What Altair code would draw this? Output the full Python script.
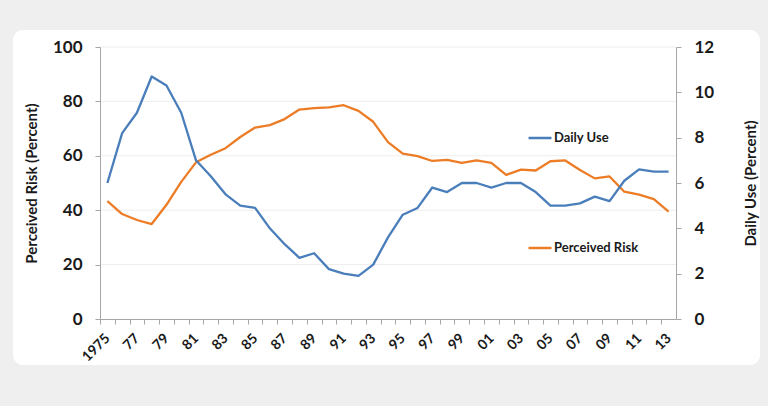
import altair as alt
import pandas as pd

# Survey years, 1975 through 2013
years = list(range(1975, 2014))

# Percent of 12th graders using marijuana daily (right axis)
daily_use = [6.0, 8.2, 9.1, 10.7, 10.3, 9.1, 7.0, 6.3, 5.5, 5.0,
             4.9, 4.0, 3.3, 2.7, 2.9, 2.2, 2.0, 1.9, 2.4, 3.6,
             4.6, 4.9, 5.8, 5.6, 6.0, 6.0, 5.8, 6.0, 6.0, 5.6,
             5.0, 5.0, 5.1, 5.4, 5.2, 6.1, 6.6, 6.5, 6.5]

# Percent seeing great risk in regular use (left axis)
perceived_risk = [43.3, 38.6, 36.4, 34.9, 42.0, 50.4, 57.6, 60.4, 62.8, 66.9,
                  70.4, 71.3, 73.5, 77.0, 77.5, 77.8, 78.6, 76.5, 72.5, 65.0,
                  60.8, 59.9, 58.1, 58.5, 57.4, 58.3, 57.4, 53.0, 54.9, 54.6,
                  58.0, 58.3, 54.8, 51.7, 52.4, 46.8, 45.7, 44.1, 39.5]

series_names = ["Daily Use", "Perceived Risk"]
series_colors = ["#4A7EBB", "#EC7C26"]

risk_ticks = [0, 20, 40, 60, 80, 100]
use_ticks = [0, 2, 4, 6, 8, 10, 12]
grid_values = [20, 40, 60, 80, 100]

df = pd.DataFrame({"year": years, "use": daily_use, "risk": perceived_risk})

W, H = 576, 272
half_step = W / len(years) / 2

FONT = "Lato"
INK = "#1a1a1a"
AXIS_GRAY = "#a6a6a6"

x_enc = alt.X(
    "year:Q",
    scale=alt.Scale(domain=[years[0] - 0.5, years[-1] + 0.5], nice=False, zero=False),
    axis=alt.Axis(
        values=years + [years[-1] + 1],
        format="d",
        labelExpr=(
            "datum.value == 1975 ? '1975' : "
            "(datum.value % 2 == 1 && datum.value < 2014 ? slice(toString(datum.value), 2) : '')"
        ),
        tickOffset=-half_step,
        labelOffset=half_step,
        tickSize=5,
        labelPadding=12,
        labelAngle=-45,
        labelAlign="right",
        labelBaseline="middle",
        labelOverlap=False,
        labelFlush=False,
        labelFont=FONT,
        labelFontWeight="bold",
        labelFontSize=14,
        labelColor=INK,
        domainColor=AXIS_GRAY,
        tickColor=AXIS_GRAY,
        grid=False,
        title=None,
        zindex=1,
    ),
)

color_enc = alt.Color(
    "series:N",
    scale=alt.Scale(domain=series_names, range=series_colors),
    legend=alt.Legend(
        orient="none",
        legendX=427,
        legendY=78,
        direction="vertical",
        title=None,
        symbolType="stroke",
        symbolSize=529,
        symbolStrokeWidth=2.5,
        labelFont=FONT,
        labelFontWeight="bold",
        labelFontSize=13,
        labelColor=INK,
        labelOffset=1,
        rowPadding=90,
    ),
)

# white rounded panel behind the plot
panel = alt.Chart(alt.Data(values=[{}])).mark_rect(
    fill="white", cornerRadius=10
).encode(
    x=alt.value(-87), x2=alt.value(660), y=alt.value(-17), y2=alt.value(318)
)

grid = alt.Chart(pd.DataFrame({"g": grid_values})).mark_rule(
    color="#ededed", strokeWidth=1
).encode(
    y=alt.Y("g:Q", scale=alt.Scale(domain=[0, 100], nice=False), axis=None)
)

risk_line = alt.Chart(df).transform_calculate(
    series="'Perceived Risk'"
).mark_line(strokeWidth=2.3, strokeJoin="round").encode(
    x=x_enc,
    y=alt.Y(
        "risk:Q",
        scale=alt.Scale(domain=[0, 100], nice=False),
        axis=alt.Axis(
            orient="left",
            values=risk_ticks,
            tickSize=5,
            labelPadding=13,
            labelFont=FONT,
            labelFontWeight="bold",
            labelFontSize=17,
            labelColor=INK,
            domainColor=AXIS_GRAY,
            tickColor=AXIS_GRAY,
            grid=False,
            title="Perceived Risk (Percent)",
            titleFont=FONT,
            titleFontWeight="bold",
            titleFontSize=15,
            titleColor=INK,
            titleAngle=-90,
            titleX=-69,
            titleY=H / 2,
            titleAlign="center",
            titleBaseline="middle",
            zindex=1,
        ),
    ),
    color=color_enc,
)

use_line = alt.Chart(df).transform_calculate(
    series="'Daily Use'"
).mark_line(strokeWidth=2.3, strokeJoin="round").encode(
    x=x_enc,
    y=alt.Y(
        "use:Q",
        scale=alt.Scale(domain=[0, 12], nice=False),
        axis=alt.Axis(
            orient="right",
            values=use_ticks,
            tickSize=5,
            labelPadding=13,
            labelFont=FONT,
            labelFontWeight="bold",
            labelFontSize=17,
            labelColor=INK,
            domainColor=AXIS_GRAY,
            tickColor=AXIS_GRAY,
            grid=False,
            title="Daily Use (Percent)",
            titleFont=FONT,
            titleFontWeight="bold",
            titleFontSize=15,
            titleColor=INK,
            titleAngle=-90,
            titleX=74,
            titleY=H / 2,
            titleAlign="center",
            titleBaseline="middle",
            zindex=1,
        ),
    ),
    color=color_enc,
)

chart = alt.layer(panel, grid, risk_line, use_line).resolve_scale(
    y="independent"
).properties(
    width=W,
    height=H,
    autosize=alt.AutoSizeParams(type="none"),
    padding={"left": 100, "top": 47, "right": 92, "bottom": 87},
    background="#efefef",
).configure_view(stroke=None)

chart.save("out.html", embed_options={"renderer": "svg", "actions": False})
